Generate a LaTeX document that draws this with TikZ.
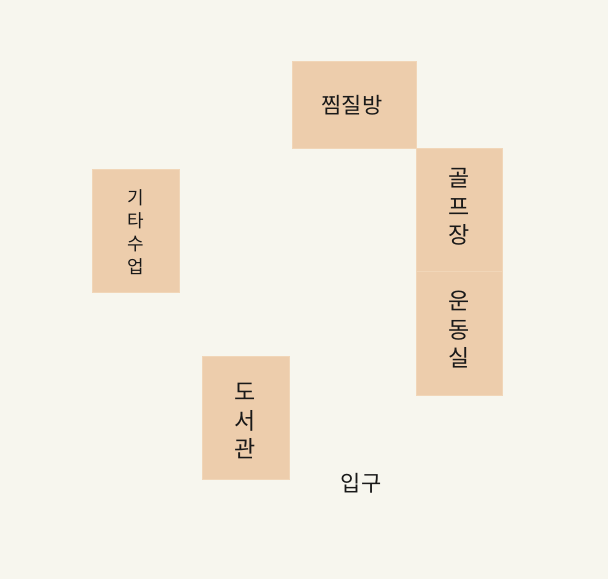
\documentclass[tikz,border=0pt]{standalone}
\usepackage{fontspec}
\newfontfamily\kr{Noto Sans CJK KR}
\definecolor{bgc}{RGB}{247,246,238}
\definecolor{roomc}{RGB}{237,205,172}
\definecolor{roomb}{RGB}{241,214,184}
\begin{document}
\begin{tikzpicture}[x=1pt,y=-1pt,
  room/.style={fill=roomc,draw=roomb,line width=0.6pt},
  lbl/.style={font=\kr\fontsize{22}{28.5}\selectfont,align=center,inner sep=0pt,text=black!90},
  lblv/.style={font=\kr\fontsize{23}{28.5}\selectfont,align=center,inner sep=0pt,text=black!90},
  lblsm/.style={font=\kr\fontsize{18}{23}\selectfont,align=center,inner sep=0pt,text=black!90}]
\fill[bgc] (0,0) rectangle (608,579);
\useasboundingbox (0,0) rectangle (608,579);
\draw[room] (292,61) rectangle (416,148);
\draw[room] (416,148) rectangle (502,271);
\draw[room] (416,271) rectangle (502,395);
\draw[room] (92,169) rectangle (179,292);
\draw[room] (202,356) rectangle (289,479);
\node[lbl] (jjim) at (352,105) {찜질방};
\node[lblv] (golf) at (459,207) {골\\프\\장};
\node[lblv] (gym) at (459,330) {운\\동\\실};
\node[lblsm] (guitar) at (135.5,232) {기\\타\\수\\업};
\node[lblv] (lib) at (245.5,421) {도\\서\\관};
\node[lbl] (ent) at (361,483) {입구};
\end{tikzpicture}
\end{document}
